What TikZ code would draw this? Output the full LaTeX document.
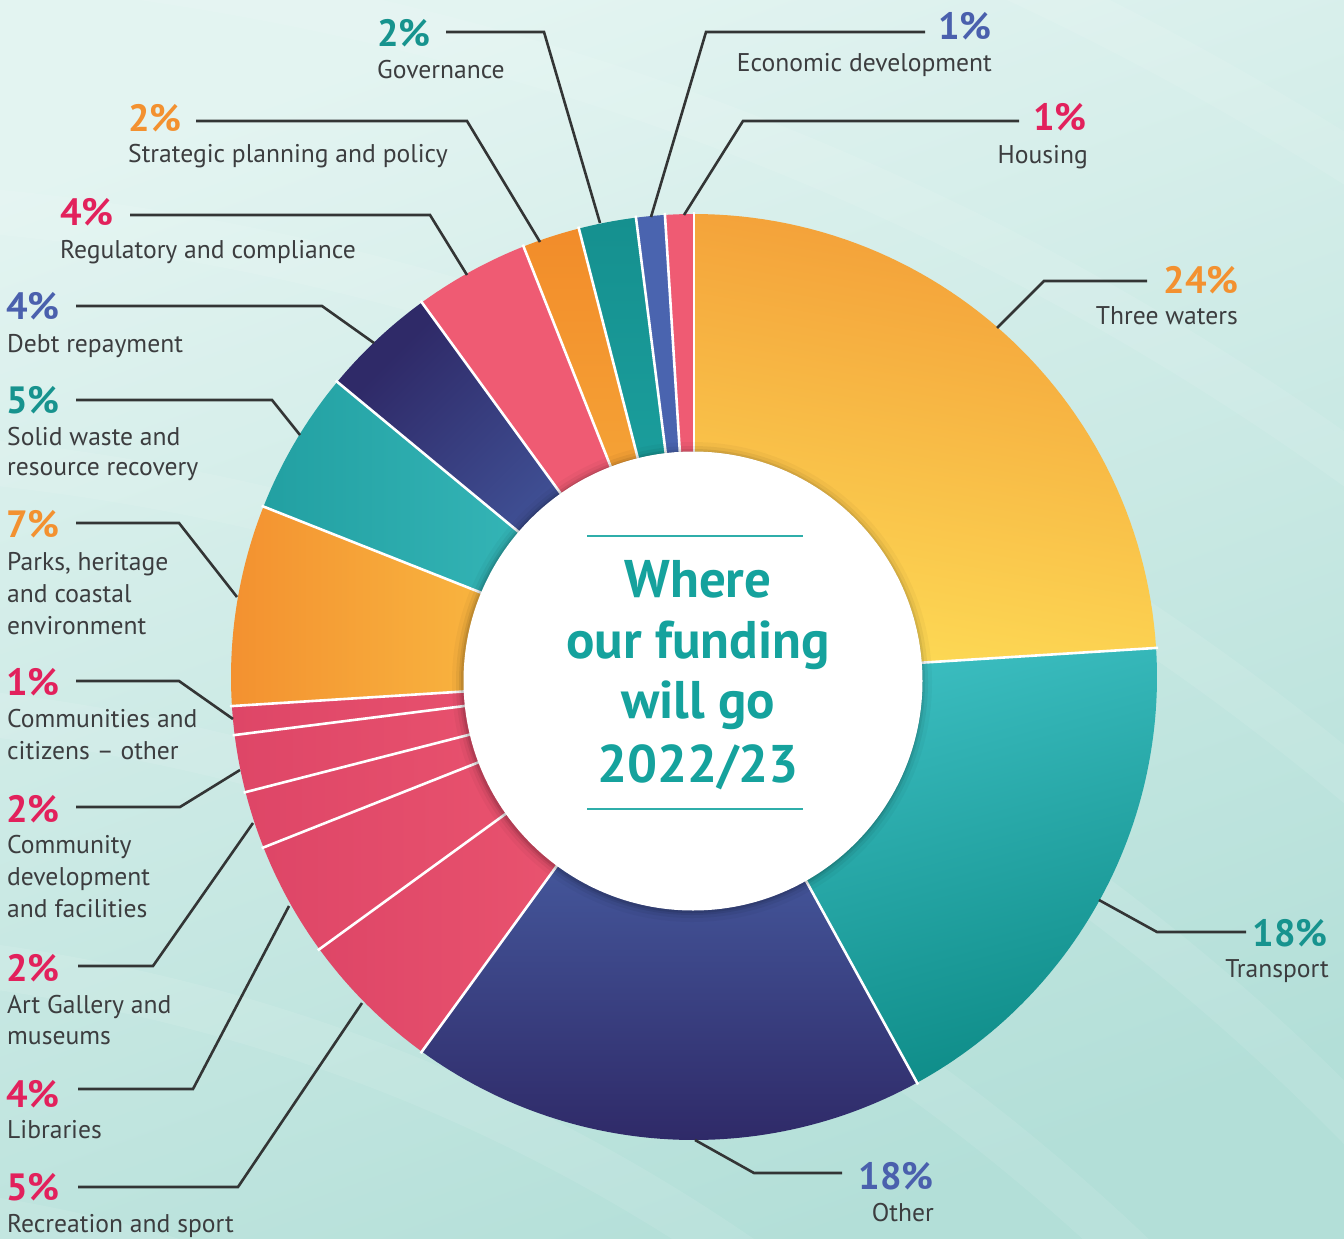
\documentclass[tikz,border=0pt]{standalone}
\usepackage{fontspec}
\setmainfont{PT Sans}
\usetikzlibrary{calc}
\definecolor{bgA}{HTML}{E3F4F1}
\definecolor{bgB}{HTML}{B3DFD8}
\definecolor{ink}{HTML}{3C3D3F}
\definecolor{leadc}{HTML}{333535}
\definecolor{pteal}{HTML}{17938E}
\definecolor{porange}{HTML}{F39130}
\definecolor{ppink}{HTML}{E2215C}
\definecolor{pblue}{HTML}{4A60AD}
\definecolor{tteal}{HTML}{15A29D}
\definecolor{rulec}{HTML}{2FAEAA}
\definecolor{twA}{HTML}{F39E38}
\definecolor{twB}{HTML}{FDDA55}
\definecolor{trA}{HTML}{3DBFC2}
\definecolor{trB}{HTML}{0E8C88}
\definecolor{otA}{HTML}{5274BC}
\definecolor{otB}{HTML}{2F2A68}
\definecolor{pkA}{HTML}{DE4667}
\definecolor{pkB}{HTML}{EF5A73}
\definecolor{pkC}{HTML}{EF5B73}
\definecolor{paA}{HTML}{F39130}
\definecolor{paB}{HTML}{FDD24C}
\definecolor{swA}{HTML}{22A0A2}
\definecolor{swB}{HTML}{40C2C3}
\definecolor{dbA}{HTML}{2F2A68}
\definecolor{dbB}{HTML}{4B6AB3}
\definecolor{stA}{HTML}{F28C2A}
\definecolor{stB}{HTML}{F7B540}
\definecolor{gvA}{HTML}{15908F}
\definecolor{gvB}{HTML}{1FA9A7}
\definecolor{ecA}{HTML}{4A64AF}
\newcommand\donutslice[3]{\shade[#3] (694,677) -- plot[domain=#1:#2, samples=60, variable=\t] ({694+463*cos(\t)},{677+463*sin(\t)}) -- cycle;}
\begin{document}
\begin{tikzpicture}[x=1pt,y=-1pt,
  pct/.style={inner sep=0pt, font=\fontsize{38}{40}\selectfont\bfseries},
  lbl/.style={inner sep=0pt, text=ink, font=\fontsize{25.6}{30}\selectfont},
  ttl/.style={inner sep=0pt, text=tteal, font=\fontsize{53}{61}\selectfont\bfseries, anchor=base},
  leader/.style={draw=leadc, line width=2.6pt, line join=miter},
  sepline/.style={draw=white, line width=2.6pt}]
\useasboundingbox (0,0) rectangle (1344,1239);
% background
\shade[top color=bgA, bottom color=bgB, shading angle=20] (0,0) rectangle (1344,1239);
\begin{scope}
\clip (0,0) rectangle (1344,1239);
\foreach \r in {1500,1750,2000,2250,2500,2750,3000}
  \draw[white, opacity=0.09, line width=45pt] (-250,2700) circle[radius=\r];
\end{scope}
% slices
\donutslice{-90}{-3.6}{top color=twA, bottom color=twB, shading angle=-10}
\donutslice{-3.6}{61.2}{top color=trA, bottom color=trB, shading angle=15}
\donutslice{61.2}{126}{top color=otA, bottom color=otB}
\donutslice{126}{144}{left color=pkA, right color=pkB}
\donutslice{144}{158.4}{left color=pkA, right color=pkB}
\donutslice{158.4}{165.6}{left color=pkA, right color=pkB}
\donutslice{165.6}{172.8}{left color=pkA, right color=pkB}
\donutslice{172.8}{176.4}{left color=pkA, right color=pkB}
\donutslice{176.4}{201.6}{left color=paA, right color=paB}
\donutslice{201.6}{219.6}{left color=swA, right color=swB}
\donutslice{219.6}{234}{top color=dbA, bottom color=dbB, shading angle=45}
\donutslice{234}{248.4}{left color=pkC, right color=pkC}
\donutslice{248.4}{255.6}{top color=stA, bottom color=stB}
\donutslice{255.6}{262.8}{top color=gvA, bottom color=gvB}
\donutslice{262.8}{266.4}{top color=ecA, bottom color=ecA}
\donutslice{266.4}{270}{top color=pkC, bottom color=pkC}
\foreach \a in {-3.6,61.2,126,144,158.4,165.6,172.8,176.4,201.6,219.6,234,248.4,255.6,262.8,266.4,270}
  \draw[sepline] (694,677) -- ({694+465*cos(\a)},{677+465*sin(\a)});
% hub with soft shadow
\fill[black, opacity=0.03] (692,682) circle[radius=240];
\fill[black, opacity=0.05] (692,682) circle[radius=236];
\fill[black, opacity=0.07] (692,682) circle[radius=233];
\fill[black, opacity=0.09] (692,682) circle[radius=231];
\node[circle, fill=white, inner sep=0pt, minimum size=459pt] (hub) at (693,681) {};
% title
\coordinate (r1a) at (587,536); \coordinate (r1b) at (803,536);
\coordinate (r2a) at (587,809); \coordinate (r2b) at (803,809);
\draw[rulec, line width=1.5pt] (r1a) -- (r1b);
\draw[rulec, line width=1.5pt] (r2a) -- (r2b);
\node[ttl] (t1) at (698,597) {Where};
\node[ttl] (t2) at (698,658) {our funding};
\node[ttl] (t3) at (698,718) {will go};
\node[ttl] (t4) at (698,782) {2022/23};
% ---------- labels: left/top ----------
% Governance
\node[pct, text=pteal, anchor=base west] (p1) at (377,47) {2\%};
\node[lbl, anchor=base west] (l1) at (377,78) {Governance};
\coordinate (a1) at (446,32); \coordinate (b1) at (544,32); \coordinate (c1) at (600,223);
\draw[leader] (a1) -- (b1) -- (c1);
% Strategic
\node[pct, text=porange, anchor=base west] (p2) at (128,131) {2\%};
\node[lbl, anchor=base west] (l2) at (128,162) {Strategic planning and policy};
\coordinate (a2) at (196,121); \coordinate (b2) at (467,121); \coordinate (c2) at (540,242);
\draw[leader] (a2) -- (b2) -- (c2);
% Regulatory
\node[pct, text=ppink, anchor=base west] (p3) at (60,225) {4\%};
\node[lbl, anchor=base west] (l3) at (60,258) {Regulatory and compliance};
\coordinate (a3) at (130,215); \coordinate (b3) at (430,215); \coordinate (c3) at (467,275);
\draw[leader] (a3) -- (b3) -- (c3);
% Debt
\node[pct, text=pblue, anchor=base west] (p4) at (6,319) {4\%};
\node[lbl, anchor=base west] (l4) at (7,352) {Debt repayment};
\coordinate (a4) at (76,306); \coordinate (b4) at (322,306); \coordinate (c4) at (374,343);
\draw[leader] (a4) -- (b4) -- (c4);
% Solid waste
\node[pct, text=pteal, anchor=base west] (p5) at (6,413) {5\%};
\node[lbl, anchor=base west] (l5a) at (7,445) {Solid waste and};
\node[lbl, anchor=base west] (l5b) at (7,475) {resource recovery};
\coordinate (a5) at (76,400); \coordinate (b5) at (272,400); \coordinate (c5) at (300,435);
\draw[leader] (a5) -- (b5) -- (c5);
% Parks
\node[pct, text=porange, anchor=base west] (p6) at (6,537) {7\%};
\node[lbl, anchor=base west] (l6a) at (7,570) {Parks, heritage};
\node[lbl, anchor=base west] (l6b) at (7,602) {and coastal};
\node[lbl, anchor=base west] (l6c) at (7,634) {environment};
\coordinate (a6) at (76,523); \coordinate (b6) at (179,523); \coordinate (c6) at (237,597);
\draw[leader] (a6) -- (b6) -- (c6);
% Communities other
\node[pct, text=ppink, anchor=base west] (p7) at (6,695) {1\%};
\node[lbl, anchor=base west] (l7a) at (7,727) {Communities and};
\node[lbl, anchor=base west] (l7b) at (7,759) {citizens – other};
\coordinate (a7) at (76,681); \coordinate (b7) at (179,681); \coordinate (c7) at (233,719);
\draw[leader] (a7) -- (b7) -- (c7);
% Community development
\node[pct, text=ppink, anchor=base west] (p8) at (6,822) {2\%};
\node[lbl, anchor=base west] (l8a) at (7,853) {Community};
\node[lbl, anchor=base west] (l8b) at (7,885) {development};
\node[lbl, anchor=base west] (l8c) at (7,917) {and facilities};
\coordinate (a8) at (76,807); \coordinate (b8) at (180,807); \coordinate (c8) at (240,770);
\draw[leader] (a8) -- (b8) -- (c8);
% Art gallery
\node[pct, text=ppink, anchor=base west] (p9) at (6,981) {2\%};
\node[lbl, anchor=base west] (l9a) at (7,1013) {Art Gallery and};
\node[lbl, anchor=base west] (l9b) at (7,1044) {museums};
\coordinate (a9) at (78,966); \coordinate (b9) at (153,966); \coordinate (c9) at (253,823);
\draw[leader] (a9) -- (b9) -- (c9);
% Libraries
\node[pct, text=ppink, anchor=base west] (p10) at (6,1107) {4\%};
\node[lbl, anchor=base west] (l10) at (7,1138) {Libraries};
\coordinate (a10) at (78,1089); \coordinate (b10) at (193,1089); \coordinate (c10) at (289,906);
\draw[leader] (a10) -- (b10) -- (c10);
% Recreation
\node[pct, text=ppink, anchor=base west] (p11) at (6,1200) {5\%};
\node[lbl, anchor=base west] (l11) at (7,1232) {Recreation and sport};
\coordinate (a11) at (78,1187); \coordinate (b11) at (238,1187); \coordinate (c11) at (362,1003);
\draw[leader] (a11) -- (b11) -- (c11);
% ---------- labels: right ----------
% Other
\node[pct, text=pblue, anchor=base east] (p12) at (934,1189) {18\%};
\node[lbl, anchor=base east] (l12) at (934,1221) {Other};
\coordinate (a12) at (695,1140); \coordinate (b12) at (754,1173); \coordinate (c12) at (842,1173);
\draw[leader] (a12) -- (b12) -- (c12);
% Transport
\node[pct, text=pteal, anchor=base east] (p13) at (1328,946) {18\%};
\node[lbl, anchor=base east] (l13) at (1329,977) {Transport};
\coordinate (a13) at (1099,900); \coordinate (b13) at (1157,932); \coordinate (c13) at (1246,932);
\draw[leader] (a13) -- (b13) -- (c13);
% Three waters
\node[pct, text=porange, anchor=base east] (p14) at (1239,293) {24\%};
\node[lbl, anchor=base east] (l14) at (1238,324) {Three waters};
\coordinate (a14) at (997,328); \coordinate (b14) at (1044,281); \coordinate (c14) at (1147,281);
\draw[leader] (a14) -- (b14) -- (c14);
% Housing
\node[pct, text=ppink, anchor=base east] (p15) at (1087,130) {1\%};
\node[lbl, anchor=base east] (l15) at (1088,163) {Housing};
\coordinate (a15) at (684,215); \coordinate (b15) at (743,121); \coordinate (c15) at (1019,121);
\draw[leader] (a15) -- (b15) -- (c15);
% Economic development
\node[pct, text=pblue, anchor=base east] (p16) at (992,40) {1\%};
\node[lbl, anchor=base east] (l16) at (992,71) {Economic development};
\coordinate (a16) at (651,217); \coordinate (b16) at (706,32); \coordinate (c16) at (925,32);
\draw[leader] (a16) -- (b16) -- (c16);
\end{tikzpicture}
\end{document}
